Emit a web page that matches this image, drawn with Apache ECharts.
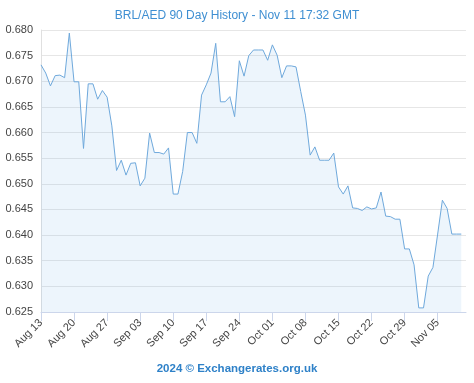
<!DOCTYPE html>
<html><head><meta charset="utf-8">
<script src="https://cdn.jsdelivr.net/npm/echarts@6/dist/echarts.min.js"></script>
<style>html,body{margin:0;padding:0;background:#fff}#c{width:474px;height:383px}</style>
</head><body><div id="c"></div>
<script>
const titleText = "BRL/AED 90 Day History - Nov 11 17:32 GMT";
const footerText = "2024 © Exchangerates.org.uk";
const dates = [
"Aug 13","Aug 14","Aug 15","Aug 16","Aug 17","Aug 18","Aug 19","Aug 20","Aug 21","Aug 22","Aug 23","Aug 24","Aug 25","Aug 26","Aug 27","Aug 28","Aug 29","Aug 30","Aug 31",
"Sep 01","Sep 02","Sep 03","Sep 04","Sep 05","Sep 06","Sep 07","Sep 08","Sep 09","Sep 10","Sep 11","Sep 12","Sep 13","Sep 14","Sep 15","Sep 16","Sep 17","Sep 18","Sep 19","Sep 20","Sep 21","Sep 22","Sep 23","Sep 24","Sep 25","Sep 26","Sep 27","Sep 28","Sep 29","Sep 30",
"Oct 01","Oct 02","Oct 03","Oct 04","Oct 05","Oct 06","Oct 07","Oct 08","Oct 09","Oct 10","Oct 11","Oct 12","Oct 13","Oct 14","Oct 15","Oct 16","Oct 17","Oct 18","Oct 19","Oct 20","Oct 21","Oct 22","Oct 23","Oct 24","Oct 25","Oct 26","Oct 27","Oct 28","Oct 29","Oct 30","Oct 31",
"Nov 01","Nov 02","Nov 03","Nov 04","Nov 05","Nov 06","Nov 07","Nov 08","Nov 09","Nov 10","Nov 11"];
const rates = [
0.6732,0.6716,0.6691,0.6711,0.6712,0.6707,0.6794,0.6699,0.6699,0.6569,
0.6695,0.6695,0.6665,0.6682,0.6669,0.6613,0.6526,0.6546,0.6517,0.6540,
0.6541,0.6496,0.6511,0.6599,0.6561,0.6561,0.6558,0.6570,0.6480,0.6480,
0.6524,0.6600,0.6600,0.6579,0.6673,0.6693,0.6716,0.6774,0.6660,0.6660,
0.6670,0.6631,0.6740,0.6710,0.6750,0.6761,0.6761,0.6761,0.6741,0.6771,
0.6751,0.6707,0.6730,0.6730,0.6728,0.6680,0.6634,0.6556,0.6572,0.6546,
0.6546,0.6546,0.6560,0.6494,0.6480,0.6496,0.6453,0.6452,0.6448,0.6455,
0.6451,0.6453,0.6484,0.6437,0.6436,0.6431,0.6431,0.6373,0.6373,0.6342,
0.6258,0.6258,0.6320,0.6337,0.6402,0.6468,0.6452,0.6402,0.6402,0.6402,
null];
const yMin = 0.625, yMax = 0.680, yStep = 0.005;

const chart = echarts.init(document.getElementById('c'), null, {renderer:'canvas'});
chart.setOption({
  animation:false,
  backgroundColor:'#ffffff',
  textStyle:{fontFamily:'"Liberation Sans", Arial, sans-serif'},
  title:[
    {text:titleText, left:'center', top:5, textStyle:{fontSize:12, fontWeight:'normal', color:'#3f8fd2'}},
    {text:footerText, left:'center', top:358, textStyle:{fontSize:11.5, fontWeight:'bold', color:'#2e81c8'}}
  ],
  grid:{left:41, right:8, top:30, bottom:71, containLabel:false},
  xAxis:{
    type:'category', data:dates, boundaryGap:false,
    axisLine:{show:true, lineStyle:{color:'#ccd6eb', width:1}},
    axisTick:{show:true, interval:6, length:9, lineStyle:{color:'#ccd6eb'}},
    axisLabel:{interval:6, rotate:45, fontSize:11, color:'#444', margin:9},
    splitLine:{show:false}
  },
  yAxis:{
    type:'value', min:yMin, max:yMax, interval:yStep,
    axisLine:{show:true, lineStyle:{color:'#e0e0e0'}},
    axisTick:{show:false},
    axisLabel:{fontSize:11, color:'#444', margin:8, formatter:v=>v.toFixed(3)},
    splitLine:{lineStyle:{color:'#e6e6e6', width:1}}
  },
  series:[{
    type:'line', data:rates, showSymbol:false, symbol:'none',
    lineStyle:{color:'#6fa9dc', width:1},
    areaStyle:{color:'rgba(124,181,236,0.2)'},
    connectNulls:false
  }]
});
</script></body></html>
